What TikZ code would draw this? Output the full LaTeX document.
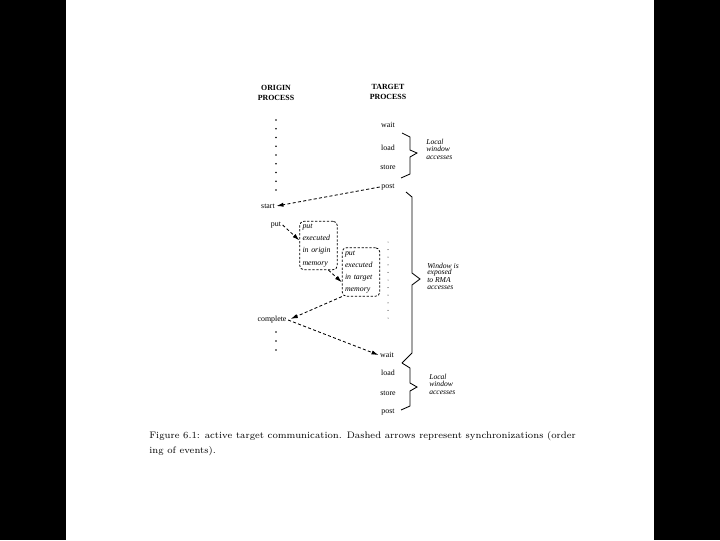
\documentclass[tikz,border=0pt]{standalone}
\usepackage{fontspec}
\newfontfamily\tms{Liberation Serif}
\usepackage{tikz}
\usetikzlibrary{positioning, arrows.meta, calc}

\begin{document}
\begin{tikzpicture}[
    x=0.025cm, y=-0.025cm,
    >={Latex[length=5pt, width=3pt]},
    hdr/.style={align=center, inner sep=0pt,
                font=\tms\fontsize{5.6}{6.6}\selectfont\bfseries},
    evt/.style={inner sep=1pt, font=\tms\fontsize{5.6}{6.6}\selectfont},
    membox/.style={draw, dashed, dash pattern=on 1.6pt off 1.2pt, line width=0.55pt,
                   rounded corners=3pt, align=left, text width=0.8cm, inner sep=2pt,
                   minimum height=1.2cm, font=\tms\itshape\fontsize{5.6}{8.7}\selectfont},
    note/.style={align=left, inner sep=0pt, anchor=west,
                 font=\tms\itshape\fontsize{5.4}{5.4}\selectfont},
    sync/.style={->, line width=0.6pt, dash pattern=on 2.2pt off 1.6pt},
    bracket/.style={line width=0.6pt},
    dotmark/.style={fill=black, inner sep=0pt, minimum size=1.1pt, circle},
]

% page on black background
\fill[black] (0,0) rectangle (720,540);
\fill[white] (66,0) rectangle (654,540);

% Column headers
\node[hdr] (origin) at (276,93) {ORIGIN\\PROCESS};
\node[hdr] (target) at (388,92) {TARGET\\PROCESS};

% Target process, first epoch
\node[evt] (wait1)  at (388,125) {wait};
\node[evt] (load1)  at (388,148) {load};
\node[evt] (store1) at (388,167) {store};
\node[evt] (post1)  at (388,187) {post};

% Origin process
\node[evt] (start)    at (268,206) {start};
\node[evt] (put)      at (276,225) {put};
\node[evt] (complete) at (272,320) {complete};

% RMA transfer boxes
\node[membox] (exo) at (318.5,245.5) {put\\executed\\in origin\\memory};
\node[membox] (ext) at (361,272) {put\\executed\\in target\\memory};

% Target process, second epoch
\node[evt] (wait2)  at (387,355) {wait};
\node[evt] (load2)  at (388,373) {load};
\node[evt] (store2) at (388,393) {store};
\node[evt] (post2)  at (388,412) {post};

% Dotted time lines
\foreach \k in {0,...,8}
    \node[dotmark] (od\k) at (276,120+8.75*\k) {};
\foreach \k in {0,...,2}
    \node[dotmark] (oe\k) at (276,332+9*\k) {};
\foreach \k in {0,...,10}
    \node[dotmark, minimum size=0.7pt] (td\k) at (388,242+7.6*\k) {};

% Brackets
\draw[bracket] (402,133) -- (410,137) -- (410,150) -- (417,153) -- (410,157) -- (410,174) -- (401,178);
\draw[bracket] (406,192) -- (412,197) -- (412,273) -- (420,279) -- (412,285) -- (412,353) -- (402,363);
\draw[bracket] (402,363) -- (410,368) -- (410,383) -- (417,387) -- (410,391) -- (410,406) -- (401,410);

\node[note] (lwa1) at (426,149) {Local\\window\\accesses};
\node[note, font=\tms\itshape\fontsize{5.4}{4.6}\selectfont] (win) at (427,276)
    {Window is\\exposed\\to RMA\\accesses};
\node[note] (lwa2) at (429,384) {Local\\window\\accesses};

% === Arrows ===
\draw[sync] (post1.west) -- (start.east);
\draw[sync] (put.east) -- (exo.165);
\draw[sync] (exo.292) -- (ext.208);
\draw[sync, shorten >=2pt] (ext.south west) -- (complete.east);
\draw[sync] (complete.east) -- (wait2.west);

% Caption
\node[anchor=north west, inner sep=0pt, align=left, font=\fontsize{6.7}{10.6}\selectfont]
    (caption) at (149,431)
    {Figure 6.1: active target communication. Dashed arrows represent synchronizations (order\\
     ing of events).};

\end{tikzpicture}
\end{document}
